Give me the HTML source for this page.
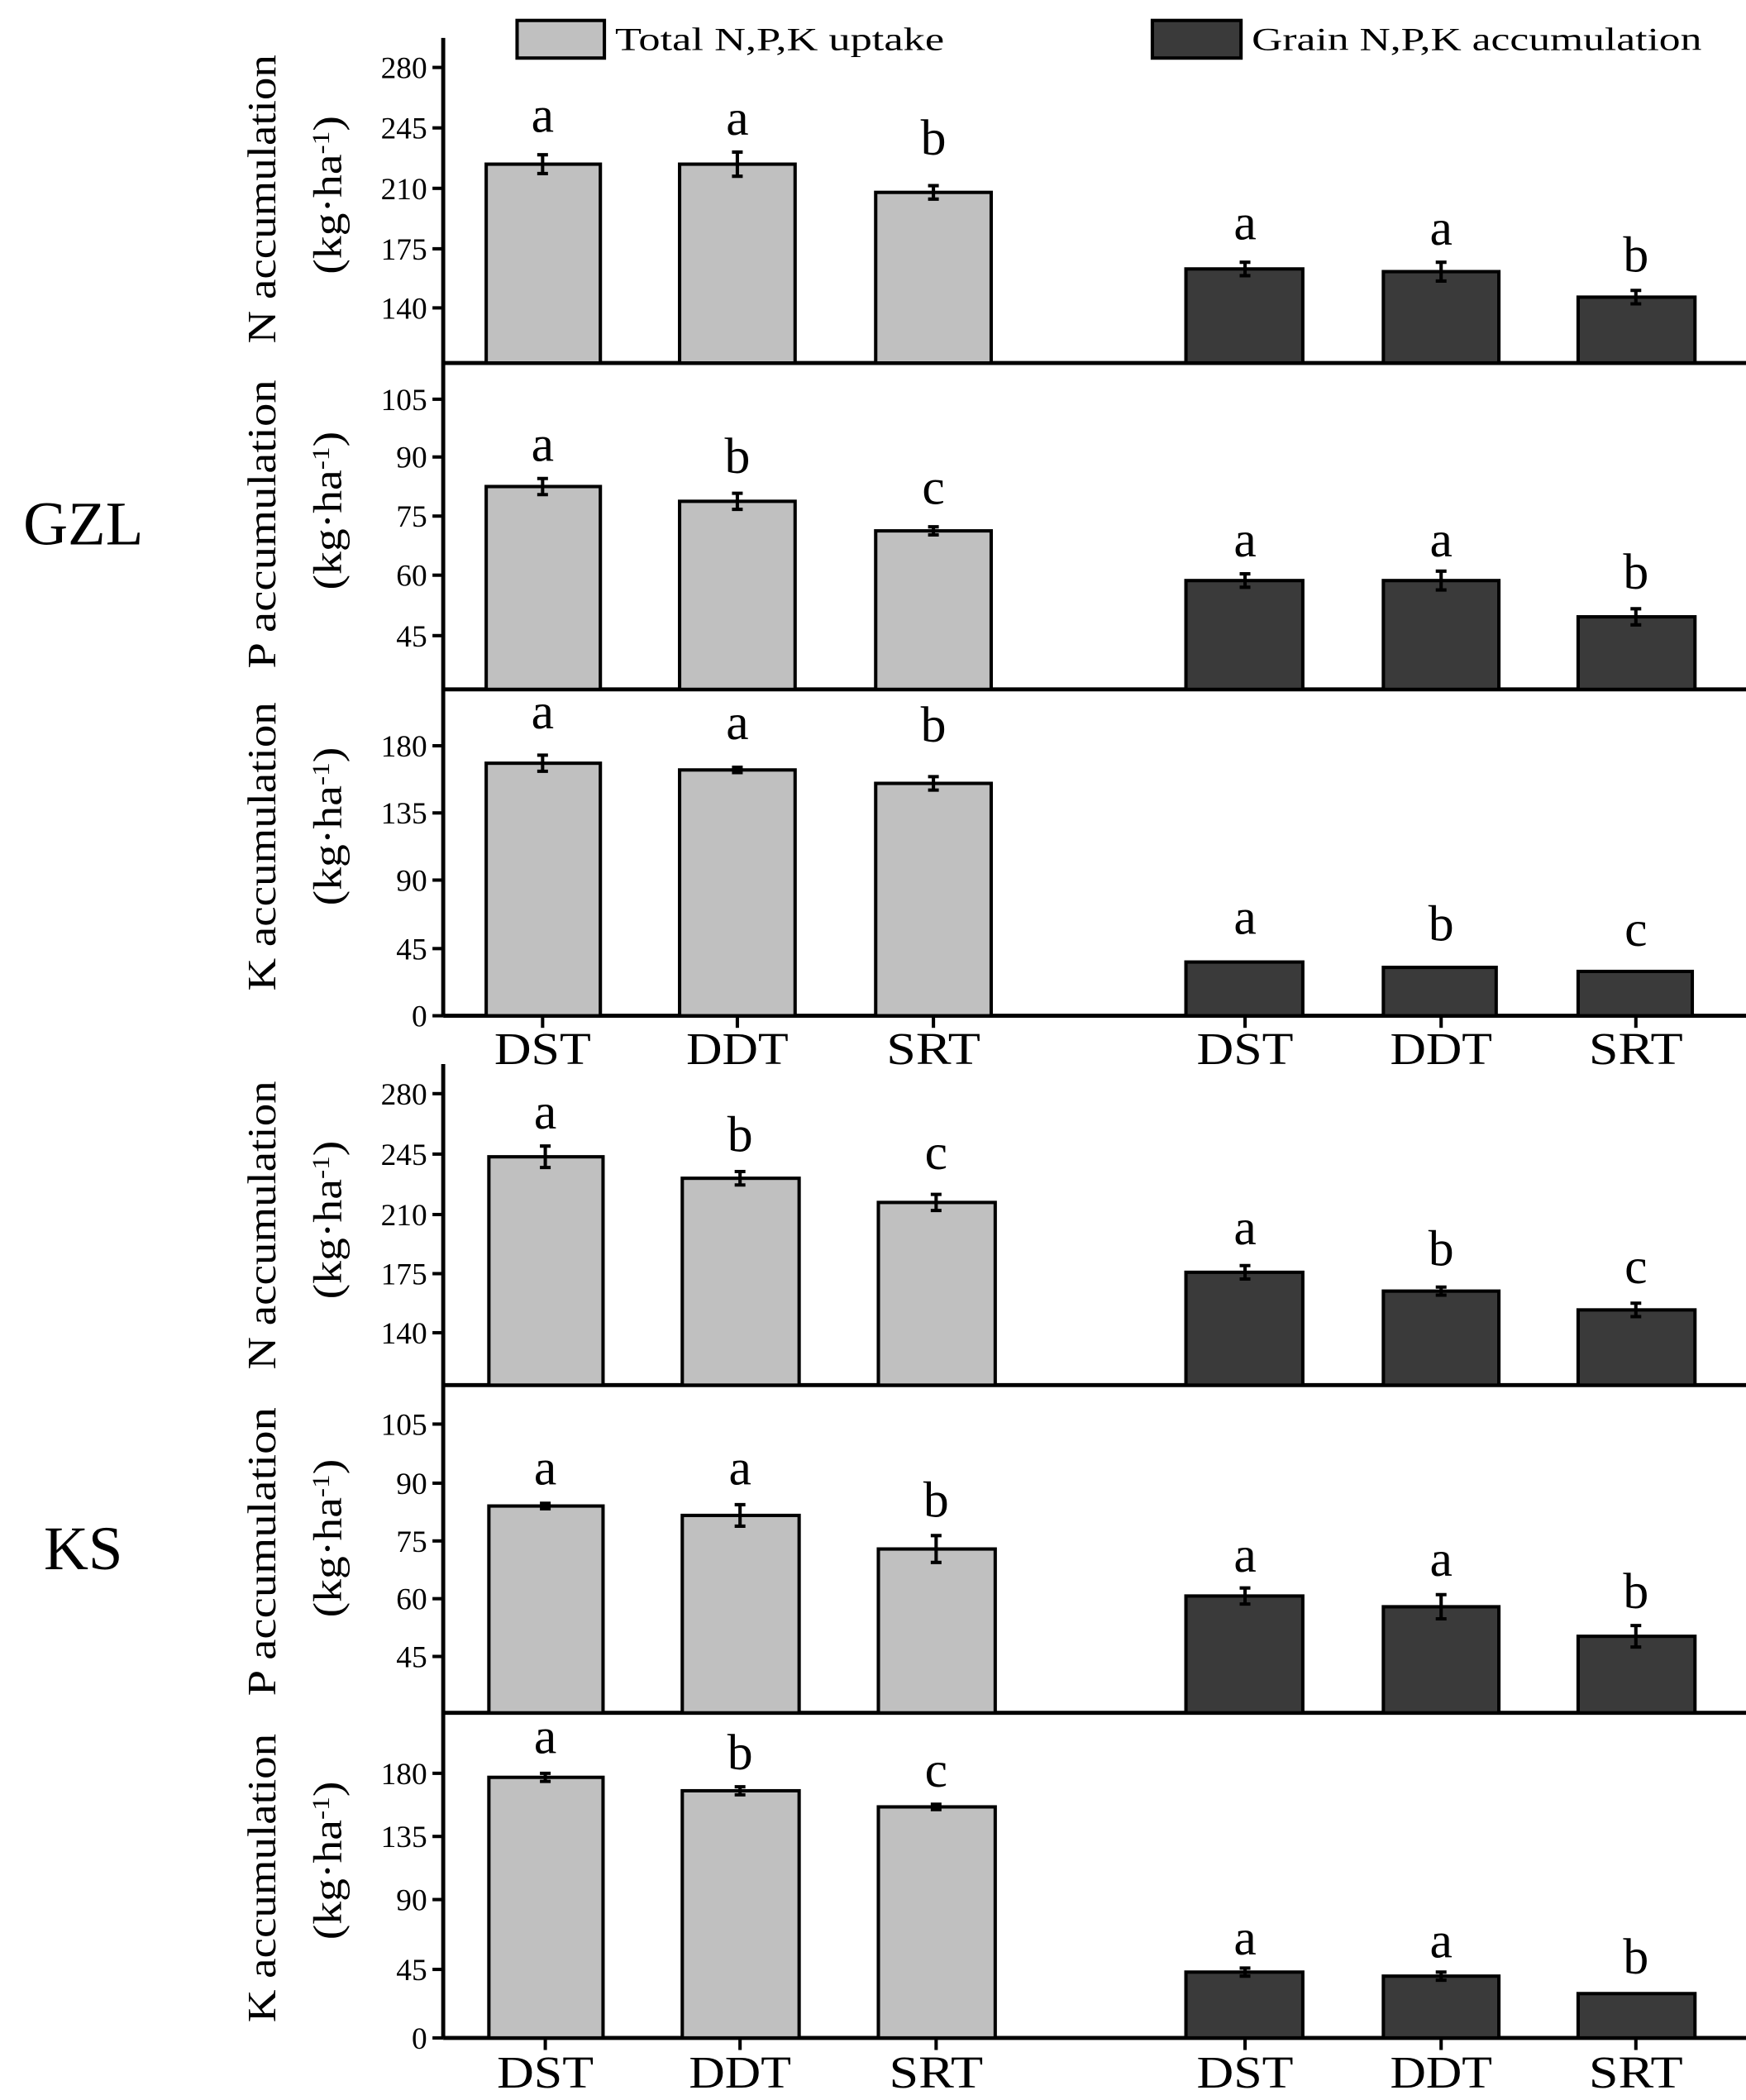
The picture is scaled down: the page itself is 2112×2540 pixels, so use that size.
<!DOCTYPE html>
<html><head><meta charset="utf-8"><style>html,body{margin:0;padding:0;background:#fff}svg{display:block}</style></head>
<body>
<svg width="2112" height="2540" viewBox="0 0 1300 1563" xmlns="http://www.w3.org/2000/svg" font-family="Liberation Serif, serif">
<rect width="1300" height="1563" fill="#fff"/>
<rect x="385" y="15" width="65" height="28" fill="#c0c0c0" stroke="#000" stroke-width="2.5"/>
<text x="458" y="37" font-size="24" textLength="245" lengthAdjust="spacingAndGlyphs">Total N,P,K uptake</text>
<rect x="858" y="15" width="66" height="28" fill="#3a3a3a" stroke="#000" stroke-width="2.5"/>
<text x="932" y="37" font-size="24" textLength="335" lengthAdjust="spacingAndGlyphs">Grain N,P,K accumulation</text>
<text x="62" y="405" font-size="46" text-anchor="middle">GZL</text>
<text x="62" y="1168" font-size="46" text-anchor="middle">KS</text>
<g stroke="#000" stroke-width="3" fill="none">
<line x1="330" y1="28" x2="330" y2="756"/>
<line x1="330" y1="792" x2="330" y2="1517"/>
<line x1="330" y1="270" x2="1300" y2="270"/>
<line x1="330" y1="513" x2="1300" y2="513"/>
<line x1="330" y1="756" x2="1300" y2="756"/>
<line x1="330" y1="1031" x2="1300" y2="1031"/>
<line x1="330" y1="1275" x2="1300" y2="1275"/>
<line x1="330" y1="1517" x2="1300" y2="1517"/>
</g>
<g stroke="#000" stroke-width="2.5">
<line x1="322" x2="330" y1="50" y2="50"/><line x1="322" x2="330" y1="95" y2="95"/><line x1="322" x2="330" y1="140" y2="140"/><line x1="322" x2="330" y1="185" y2="185"/><line x1="322" x2="330" y1="229" y2="229"/>
<line x1="322" x2="330" y1="297" y2="297"/><line x1="322" x2="330" y1="340" y2="340"/><line x1="322" x2="330" y1="384" y2="384"/><line x1="322" x2="330" y1="428" y2="428"/><line x1="322" x2="330" y1="473" y2="473"/>
<line x1="322" x2="330" y1="555" y2="555"/><line x1="322" x2="330" y1="605" y2="605"/><line x1="322" x2="330" y1="655" y2="655"/><line x1="322" x2="330" y1="706" y2="706"/><line x1="322" x2="330" y1="756" y2="756"/>
<line x1="322" x2="330" y1="814" y2="814"/><line x1="322" x2="330" y1="859" y2="859"/><line x1="322" x2="330" y1="904" y2="904"/><line x1="322" x2="330" y1="948" y2="948"/><line x1="322" x2="330" y1="992" y2="992"/>
<line x1="322" x2="330" y1="1060" y2="1060"/><line x1="322" x2="330" y1="1104" y2="1104"/><line x1="322" x2="330" y1="1147" y2="1147"/><line x1="322" x2="330" y1="1190" y2="1190"/><line x1="322" x2="330" y1="1233" y2="1233"/>
<line x1="322" x2="330" y1="1320" y2="1320"/><line x1="322" x2="330" y1="1367" y2="1367"/><line x1="322" x2="330" y1="1414" y2="1414"/><line x1="322" x2="330" y1="1466" y2="1466"/><line x1="322" x2="330" y1="1517" y2="1517"/>
<line x1="404" x2="404" y1="756" y2="765"/><line x1="549" x2="549" y1="756" y2="765"/><line x1="695" x2="695" y1="756" y2="765"/><line x1="927" x2="927" y1="756" y2="765"/><line x1="1073" x2="1073" y1="756" y2="765"/><line x1="1218" x2="1218" y1="756" y2="765"/>
<line x1="406" x2="406" y1="1517" y2="1526"/><line x1="551" x2="551" y1="1517" y2="1526"/><line x1="697" x2="697" y1="1517" y2="1526"/><line x1="927" x2="927" y1="1517" y2="1526"/><line x1="1073" x2="1073" y1="1517" y2="1526"/><line x1="1218" x2="1218" y1="1517" y2="1526"/>
</g>
<g font-size="23" text-anchor="end">
<text x="318" y="58">280</text><text x="318" y="103">245</text><text x="318" y="148">210</text><text x="318" y="193">175</text><text x="318" y="237">140</text>
<text x="318" y="305">105</text><text x="318" y="348">90</text><text x="318" y="392">75</text><text x="318" y="436">60</text><text x="318" y="481">45</text>
<text x="318" y="563">180</text><text x="318" y="613">135</text><text x="318" y="663">90</text><text x="318" y="714">45</text><text x="318" y="764">0</text>
<text x="318" y="822">280</text><text x="318" y="867">245</text><text x="318" y="912">210</text><text x="318" y="956">175</text><text x="318" y="1000">140</text>
<text x="318" y="1068">105</text><text x="318" y="1112">90</text><text x="318" y="1155">75</text><text x="318" y="1198">60</text><text x="318" y="1241">45</text>
<text x="318" y="1328">180</text><text x="318" y="1375">135</text><text x="318" y="1422">90</text><text x="318" y="1474">45</text><text x="318" y="1525">0</text>
</g>
<g font-size="30" text-anchor="middle">
<text transform="translate(205,148) rotate(-90)" textLength="215" lengthAdjust="spacingAndGlyphs">N accumulation</text>
<text transform="translate(254,145) rotate(-90)" textLength="118" lengthAdjust="spacingAndGlyphs">(kg·ha<tspan dy="-9" font-size="18">-1</tspan><tspan dy="9">)</tspan></text>
<text transform="translate(205,390) rotate(-90)" textLength="215" lengthAdjust="spacingAndGlyphs">P accumulation</text>
<text transform="translate(254,380) rotate(-90)" textLength="118" lengthAdjust="spacingAndGlyphs">(kg·ha<tspan dy="-9" font-size="18">-1</tspan><tspan dy="9">)</tspan></text>
<text transform="translate(205,630) rotate(-90)" textLength="215" lengthAdjust="spacingAndGlyphs">K accumulation</text>
<text transform="translate(254,615) rotate(-90)" textLength="118" lengthAdjust="spacingAndGlyphs">(kg·ha<tspan dy="-9" font-size="18">-1</tspan><tspan dy="9">)</tspan></text>
<text transform="translate(205,912) rotate(-90)" textLength="215" lengthAdjust="spacingAndGlyphs">N accumulation</text>
<text transform="translate(254,908) rotate(-90)" textLength="118" lengthAdjust="spacingAndGlyphs">(kg·ha<tspan dy="-9" font-size="18">-1</tspan><tspan dy="9">)</tspan></text>
<text transform="translate(205,1155) rotate(-90)" textLength="215" lengthAdjust="spacingAndGlyphs">P accumulation</text>
<text transform="translate(254,1145) rotate(-90)" textLength="118" lengthAdjust="spacingAndGlyphs">(kg·ha<tspan dy="-9" font-size="18">-1</tspan><tspan dy="9">)</tspan></text>
<text transform="translate(205,1398) rotate(-90)" textLength="215" lengthAdjust="spacingAndGlyphs">K accumulation</text>
<text transform="translate(254,1385) rotate(-90)" textLength="118" lengthAdjust="spacingAndGlyphs">(kg·ha<tspan dy="-9" font-size="18">-1</tspan><tspan dy="9">)</tspan></text>
</g>
<g stroke="#000" stroke-width="2.5">
<g fill="#c0c0c0">
<rect x="362" y="122" width="85" height="148"/><rect x="506" y="122" width="86" height="148"/><rect x="652" y="143" width="86" height="127"/>
<rect x="362" y="362" width="85" height="151"/><rect x="506" y="373" width="86" height="140"/><rect x="652" y="395" width="86" height="118"/>
<rect x="362" y="568" width="85" height="188"/><rect x="506" y="573" width="86" height="183"/><rect x="652" y="583" width="86" height="173"/>
<rect x="364" y="861" width="85" height="170"/><rect x="508" y="877" width="87" height="154"/><rect x="654" y="895" width="87" height="136"/>
<rect x="364" y="1121" width="85" height="154"/><rect x="508" y="1128" width="87" height="147"/><rect x="654" y="1153" width="87" height="122"/>
<rect x="364" y="1323" width="85" height="194"/><rect x="508" y="1333" width="87" height="184"/><rect x="654" y="1345" width="87" height="172"/>
</g>
<g fill="#3a3a3a">
<rect x="883" y="200" width="87" height="70"/><rect x="1030" y="202" width="86" height="68"/><rect x="1175" y="221" width="87" height="49"/>
<rect x="883" y="432" width="87" height="81"/><rect x="1030" y="432" width="86" height="81"/><rect x="1175" y="459" width="87" height="54"/>
<rect x="883" y="716" width="87" height="40"/><rect x="1030" y="720" width="84" height="36"/><rect x="1175" y="723" width="85" height="33"/>
<rect x="883" y="947" width="87" height="84"/><rect x="1030" y="961" width="86" height="70"/><rect x="1175" y="975" width="87" height="56"/>
<rect x="883" y="1188" width="87" height="87"/><rect x="1030" y="1196" width="86" height="79"/><rect x="1175" y="1218" width="87" height="57"/>
<rect x="883" y="1468" width="87" height="49"/><rect x="1030" y="1471" width="86" height="46"/><rect x="1175" y="1484" width="87" height="33"/>
</g>
</g>
<g stroke="#000" stroke-width="2.5">
<path d="M404 115v14M400 115h8M400 129h8 M549 113v18M545 113h8M545 131h8 M695 138v10M691 138h8M691 148h8"/>
<path d="M927 195v10M923 195h8M923 205h8 M1073 195v14M1069 195h8M1069 209h8 M1218 216v10M1214 216h8M1214 226h8"/>
<path d="M404 356v12M400 356h8M400 368h8 M549 367v12M545 367h8M545 379h8 M695 392v6M691 392h8M691 398h8"/>
<path d="M927 427v10M923 427h8M923 437h8 M1073 425v14M1069 425h8M1069 439h8 M1218 453v12M1214 453h8M1214 465h8"/>
<path d="M404 562v12M400 562h8M400 574h8 M549 571v4M545 571h8M545 575h8 M695 578v10M691 578h8M691 588h8"/>
<path d="M406 853v16M402 853h8M402 869h8 M551 872v10M547 872h8M547 882h8 M697 889v12M693 889h8M693 901h8"/>
<path d="M927 942v10M923 942h8M923 952h8 M1073 958v6M1069 958h8M1069 964h8 M1218 970v10M1214 970h8M1214 980h8"/>
<path d="M406 1119v4M402 1119h8M402 1123h8 M551 1120v16M547 1120h8M547 1136h8 M697 1143v20M693 1143h8M693 1163h8"/>
<path d="M927 1182v12M923 1182h8M923 1194h8 M1073 1187v18M1069 1187h8M1069 1205h8 M1218 1210v16M1214 1210h8M1214 1226h8"/>
<path d="M406 1320v6M402 1320h8M402 1326h8 M551 1330v6M547 1330h8M547 1336h8 M697 1343v4M693 1343h8M693 1347h8"/>
<path d="M927 1465v6M923 1465h8M923 1471h8 M1073 1468v6M1069 1468h8M1069 1474h8"/>
</g>
<g font-size="38" text-anchor="middle">
<text x="404" y="98">a</text><text x="549" y="100">a</text><text x="695" y="115">b</text>
<text x="927" y="178">a</text><text x="1073" y="182">a</text><text x="1218" y="202">b</text>
<text x="404" y="343">a</text><text x="549" y="352">b</text><text x="695" y="375">c</text>
<text x="927" y="414">a</text><text x="1073" y="414">a</text><text x="1218" y="438">b</text>
<text x="404" y="542">a</text><text x="549" y="550">a</text><text x="695" y="552">b</text>
<text x="927" y="695">a</text><text x="1073" y="700">b</text><text x="1218" y="704">c</text>
<text x="406" y="840">a</text><text x="551" y="857">b</text><text x="697" y="870">c</text>
<text x="927" y="926">a</text><text x="1073" y="942">b</text><text x="1218" y="955">c</text>
<text x="406" y="1105">a</text><text x="551" y="1105">a</text><text x="697" y="1129">b</text>
<text x="927" y="1170">a</text><text x="1073" y="1173">a</text><text x="1218" y="1197">b</text>
<text x="406" y="1305">a</text><text x="551" y="1317">b</text><text x="697" y="1330">c</text>
<text x="927" y="1455">a</text><text x="1073" y="1457">a</text><text x="1218" y="1469">b</text>
</g>
<g font-size="34" text-anchor="middle">
<text x="404" y="792" textLength="72" lengthAdjust="spacingAndGlyphs">DST</text><text x="549" y="792" textLength="76" lengthAdjust="spacingAndGlyphs">DDT</text><text x="695" y="792" textLength="70" lengthAdjust="spacingAndGlyphs">SRT</text>
<text x="927" y="792" textLength="72" lengthAdjust="spacingAndGlyphs">DST</text><text x="1073" y="792" textLength="76" lengthAdjust="spacingAndGlyphs">DDT</text><text x="1218" y="792" textLength="70" lengthAdjust="spacingAndGlyphs">SRT</text>
<text x="406" y="1554" textLength="72" lengthAdjust="spacingAndGlyphs">DST</text><text x="551" y="1554" textLength="76" lengthAdjust="spacingAndGlyphs">DDT</text><text x="697" y="1554" textLength="70" lengthAdjust="spacingAndGlyphs">SRT</text>
<text x="927" y="1554" textLength="72" lengthAdjust="spacingAndGlyphs">DST</text><text x="1073" y="1554" textLength="76" lengthAdjust="spacingAndGlyphs">DDT</text><text x="1218" y="1554" textLength="70" lengthAdjust="spacingAndGlyphs">SRT</text>
</g>
</svg>
</body></html>
